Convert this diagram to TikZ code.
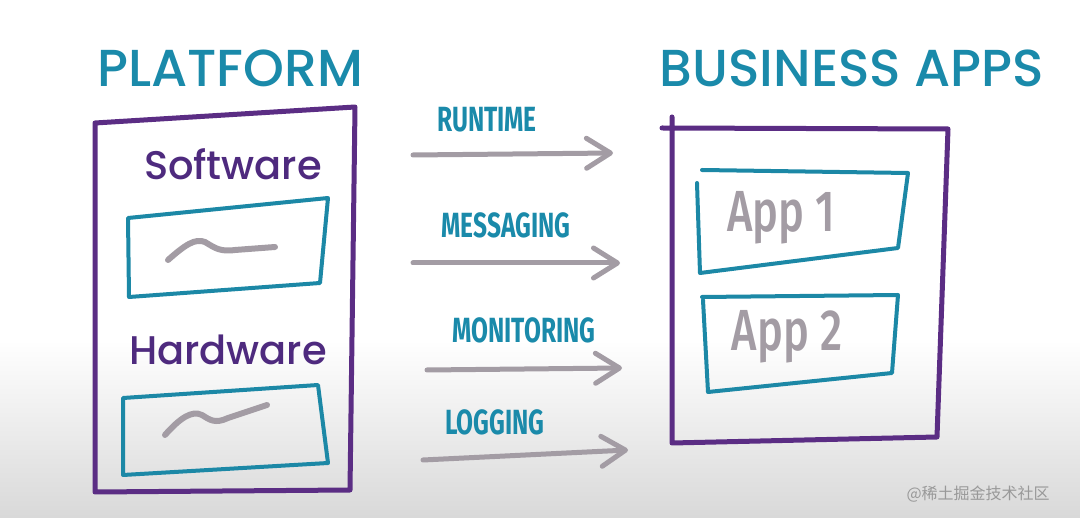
\documentclass[tikz,border=0pt]{standalone}
\usepackage{fontspec}
\usetikzlibrary{arrows.meta}
\setmainfont{Poppins}[UprightFont=* Medium]
\newfontfamily\handfont[FakeStretch=0.7]{Fira Sans}
\newfontfamily\appfont[FakeStretch=0.75, UprightFont=* Medium]{Fira Sans}
\newfontfamily\cjkfont{Noto Sans CJK SC}
\definecolor{platpurple}{HTML}{5B2D84}
\definecolor{textpurple}{HTML}{4E2A7E}
\definecolor{boxteal}{HTML}{1C88A6}
\definecolor{titleteal}{HTML}{1A8AAA}
\definecolor{markgray}{HTML}{A39CA4}

\begin{document}
\begin{tikzpicture}[x=1pt, y=-1pt,
    frame/.style={draw=platpurple, line width=5pt, line cap=round, line join=round},
    inner/.style={draw=boxteal, line width=4pt, line cap=round, line join=round},
    squiggle/.style={draw=markgray, line width=6pt, line cap=round},
    flow/.style={draw=markgray, line width=5pt, line cap=round, -{Straight Barb[length=24pt, width=30pt, round]}},
    title/.style={text=titleteal, font=\fontsize{52}{52}\selectfont},
    layer/.style={text=textpurple, font=\fontsize{40}{40}\selectfont},
    service/.style={text=titleteal, font=\handfont\bfseries\fontsize{35}{35}\selectfont},
    app/.style={text=markgray, font=\appfont\fontsize{58}{58}\selectfont}]
      \useasboundingbox (0,0) rectangle (1080,518);
      \fill[white] (0,0) rectangle (1080,518);
      \shade[top color=white, bottom color=black!15] (0,340) rectangle (1080,518);

      % platform side
      \node (Platform) [title] at (230,68) {PLATFORM};
      \draw [frame] (95,123) -- (355,107) -- (350,490) -- (95,492) -- cycle;
      \node (Software) [layer] at (233,164) {Software};
      \draw [inner] (128,218) -- (328,198) -- (320,283) -- (129,297) -- cycle;
      \draw [squiggle] (168,260) .. controls (185,245) and (195,238) .. (205,242)
                       .. controls (215,248) and (220,252) .. (235,250) -- (275,247);
      \node (Hardware) [layer] at (228,350) {Hardware};
      \draw [inner] (123,398) -- (318,385) -- (328,463) -- (123,475) -- cycle;
      \draw [squiggle] (165,435) .. controls (180,418) and (192,410) .. (202,415)
                       .. controls (210,420) and (215,424) .. (228,418) -- (267,405);

      % business side
      \node (Business) [title] at (852,68) {BUSINESS APPS};
      \draw [frame] (662,128) -- (948,129) -- (937,437) -- (672,443) -- (672,117);
      \draw [inner] (702,170) -- (908,173) -- (898,248) -- (700,273) -- (697,183);
      \node (AppOne) [app] at (781,218) {App 1};
      \draw [inner] (702,297) -- (898,295) -- (892,373) -- (708,392) -- (703,300);
      \node (AppTwo) [app] at (787,337) {App 2};

      % services
      \node (Runtime) [service] at (487,120) {RUNTIME};
      \node (Messaging) [service] at (506,225) {MESSAGING};
      \node (Monitoring) [service] at (524,330) {MONITORING};
      \node (Logging) [service] at (495,422) {LOGGING};
      \coordinate (RuntimeFrom) at (413,155);
      \coordinate (RuntimeTo) at (613,153);
      \coordinate (MessagingFrom) at (413,263);
      \coordinate (MessagingTo) at (620,263);
      \coordinate (MonitoringFrom) at (427,370);
      \coordinate (MonitoringTo) at (622,368);
      \coordinate (LoggingFrom) at (423,460);
      \coordinate (LoggingTo) at (628,450);
      \draw [flow] (RuntimeFrom) -- (RuntimeTo);
      \draw [flow] (MessagingFrom) -- (MessagingTo);
      \draw [flow] (MonitoringFrom) -- (MonitoringTo);
      \draw [flow] (LoggingFrom) -- (LoggingTo);

      \node (Watermark) [anchor=west, text=black!40, font=\cjkfont\fontsize{16}{16}\selectfont] at (903,494) {@稀土掘金技术社区};
    \end{tikzpicture}
\end{document}
